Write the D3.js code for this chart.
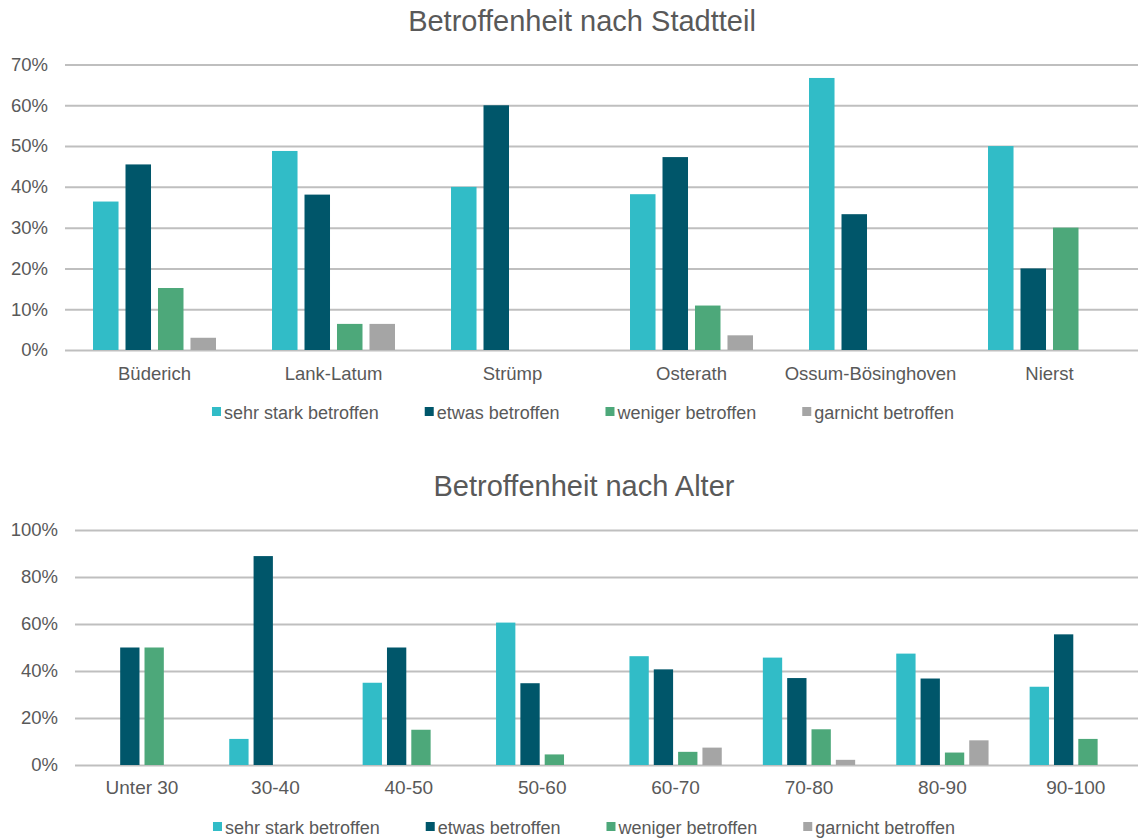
<!DOCTYPE html>
<html lang="de">
<head>
<meta charset="utf-8">
<title>Betroffenheit</title>
<script src="https://cdn.jsdelivr.net/npm/d3@7"></script>
<style>
  html, body { margin: 0; padding: 0; background: #ffffff; }
  svg { display: block; font-family: "Liberation Sans", Arial, sans-serif; }
  .tick text { fill: #595959; }
</style>
</head>
<body>
<svg id="chart" width="1138" height="839"></svg>
<script>
// Series names and colours (shared by both charts)
const seriesNames = ["sehr stark betroffen", "etwas betroffen", "weniger betroffen", "garnicht betroffen"];
const seriesColors = ["#31BCC7", "#00566A", "#4DA87A", "#A5A5A5"];

// Chart 1: by district (values in %)
const districts = ["Büderich", "Lank-Latum", "Strümp", "Osterath", "Ossum-Bösinghoven", "Nierst"];
const districtSehrStark = [36.4, 48.8, 40.0, 38.2, 66.7, 50.0];
const districtEtwas     = [45.5, 38.1, 60.0, 47.3, 33.3, 20.0];
const districtWeniger   = [15.2, 6.4, 0, 10.9, 0, 30.0];
const districtGarnicht  = [3.0, 6.4, 0, 3.6, 0, 0];
const districtTicks = [0, 10, 20, 30, 40, 50, 60, 70];

// Chart 2: by age group (values in %)
const ageGroups = ["Unter 30", "30-40", "40-50", "50-60", "60-70", "70-80", "80-90", "90-100"];
const ageSehrStark = [0, 11.1, 35.0, 60.6, 46.3, 45.7, 47.4, 33.3];
const ageEtwas     = [50.0, 88.9, 50.0, 34.8, 40.7, 37.0, 36.8, 55.6];
const ageWeniger   = [50.0, 0, 15.0, 4.5, 5.6, 15.2, 5.3, 11.1];
const ageGarnicht  = [0, 0, 0, 0, 7.4, 2.2, 10.5, 0];
const ageTicks = [0, 20, 40, 60, 80, 100];

const svg = d3.select("#chart");
const textColor = "#595959";
const gridColor = "#BFBFBF";

function drawChart(opt) {
  const g = svg.append("g");
  const series = opt.series;

  const y = d3.scaleLinear()
    .domain([0, d3.max(opt.ticks)])
    .range([opt.y0, opt.y1]);

  const x0 = d3.scaleBand()
    .domain(opt.categories)
    .range([opt.xStart, opt.xEnd])
    .paddingInner(opt.groupPad)
    .paddingOuter(opt.groupPad / 2);

  const x1 = d3.scaleBand()
    .domain(d3.range(series.length))
    .range([0, x0.bandwidth()])
    .paddingInner(opt.barPad)
    .paddingOuter(0);

  // title
  g.append("text")
    .attr("x", opt.titleX)
    .attr("y", opt.titleY)
    .attr("text-anchor", "middle")
    .attr("fill", textColor)
    .style("font-size", "29px")
    .text(opt.title);

  // value axis with gridlines
  const yAxis = g.append("g")
    .attr("transform", `translate(${opt.gridStart},0)`)
    .call(d3.axisLeft(y)
      .tickValues(opt.ticks)
      .tickSize(-(opt.gridEnd - opt.gridStart))
      .tickPadding(17)
      .tickFormat(d => d + "%"));
  yAxis.select(".domain").remove();
  yAxis.selectAll(".tick line").attr("stroke", gridColor).attr("stroke-width", 2);
  yAxis.selectAll(".tick text")
    .attr("fill", textColor)
    .style("font-size", "18.5px")
    .style("font-family", "'Liberation Sans', Arial, sans-serif");

  // bars
  const groups = g.append("g").selectAll("g")
    .data(opt.categories)
    .join("g")
    .attr("transform", d => `translate(${x0(d)},0)`);

  groups.selectAll("rect")
    .data((d, i) => series.map((s, k) => ({ k, v: s[i] })))
    .join("rect")
    .attr("x", d => x1(d.k))
    .attr("width", x1.bandwidth())
    .attr("y", d => y(d.v))
    .attr("height", d => y(0) - y(d.v))
    .attr("fill", d => seriesColors[d.k]);

  // category axis
  const xAxis = g.append("g")
    .attr("transform", `translate(0,${opt.y0})`)
    .call(d3.axisBottom(x0).tickSize(0).tickPadding(opt.labelPad));
  xAxis.select(".domain").remove();
  xAxis.selectAll(".tick text")
    .attr("fill", textColor)
    .style("font-size", opt.labelSize)
    .style("font-family", "'Liberation Sans', Arial, sans-serif");

  // legend, centred under the chart
  const leg = g.append("g");
  const items = leg.selectAll("g")
    .data(seriesNames)
    .join("g");
  items.append("rect")
    .attr("width", 9)
    .attr("height", 9)
    .attr("y", opt.legendY - 12)
    .attr("fill", (d, i) => seriesColors[i]);
  items.append("text")
    .attr("x", 12)
    .attr("y", opt.legendY)
    .attr("fill", textColor)
    .style("font-size", "18px")
    .text(d => d);
  const gap = 46;
  const widths = [];
  items.each(function () {
    widths.push(this.querySelector("text").getComputedTextLength() + 12);
  });
  const total = d3.sum(widths) + gap * (widths.length - 1);
  let cx = opt.legendCenter - total / 2;
  items.attr("transform", (d, i) => {
    const t = `translate(${cx},0)`;
    cx += widths[i] + gap;
    return t;
  });
}

drawChart({
  title: "Betroffenheit nach Stadtteil",
  titleX: 582, titleY: 31,
  categories: districts,
  series: [districtSehrStark, districtEtwas, districtWeniger, districtGarnicht],
  ticks: districtTicks,
  y0: 350, y1: 64.5,
  xStart: 65, xEnd: 1139,
  gridStart: 65, gridEnd: 1138,
  groupPad: 0.313, barPad: 0.215,
  labelPad: 17, labelSize: "18.5px",
  legendY: 419, legendCenter: 583
});

drawChart({
  title: "Betroffenheit nach Alter",
  titleX: 584, titleY: 496,
  categories: ageGroups,
  series: [ageSehrStark, ageEtwas, ageWeniger, ageGarnicht],
  ticks: ageTicks,
  y0: 765, y1: 530,
  xStart: 75.3, xEnd: 1142.5,
  gridStart: 75, gridEnd: 1138,
  groupPad: 0.308, barPad: 0.206,
  labelPad: 15.5, labelSize: "19px",
  legendY: 834, legendCenter: 584
});
</script>
</body>
</html>
